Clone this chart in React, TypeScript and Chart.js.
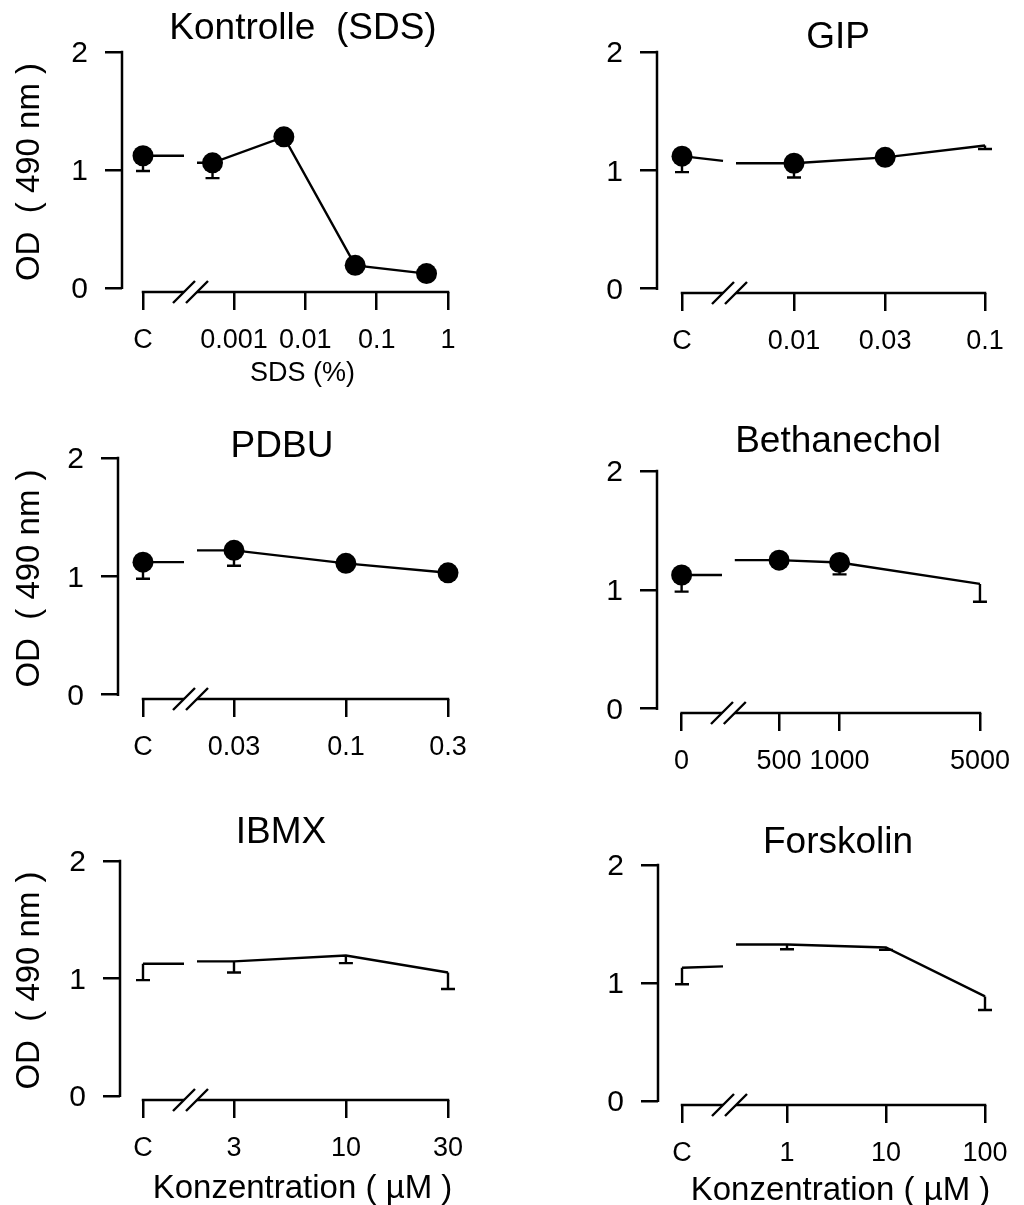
import React, { useEffect, useRef } from 'react';
import { Chart, registerables } from 'chart.js';

Chart.register(...registerables);

const FONT = '"Liberation Sans", Arial, sans-serif';

// ---------------- data ----------------
const panelTitles = ['Kontrolle  (SDS)', 'GIP', 'PDBU', 'Bethanechol', 'IBMX', 'Forskolin'];
const xTitles = ['SDS (%)', '', '', '', 'Konzentration ( µM )', 'Konzentration ( µM )'];
const yTitle = 'OD  ( 490 nm )';
const yTicks = [0, 1, 2];

// Kontrolle (SDS)
const sdsTickLabels = ['C', '0.001', '0.01', '0.1', '1'];
const sdsTicks = [0.001, 0.01, 0.1, 1];
const sdsDoses = [0.0005, 0.005, 0.05, 0.5];
const sdsMeans = [1.06, 1.28, 0.19, 0.12];
const sdsErrors = [0.13, 0, 0, 0];
const sdsMarkers = [true, true, true, true];

// GIP
const gipTickLabels = ['C', '0.01', '0.03', '0.1'];
const gipTicks = [0.01, 0.03, 0.1];
const gipDoses = [0.01, 0.03, 0.1];
const gipMeans = [1.06, 1.11, 1.21];
const gipErrors = [0.12, 0, 0.03];
const gipMarkers = [true, true, false];

// PDBU
const pdbuTickLabels = ['C', '0.03', '0.1', '0.3'];
const pdbuTicks = [0.03, 0.1, 0.3];
const pdbuDoses = [0.03, 0.1, 0.3];
const pdbuMeans = [1.22, 1.11, 1.03];
const pdbuErrors = [0.13, 0.03, 0];
const pdbuMarkers = [true, true, true];

// Bethanechol
const bethTickLabels = ['0', '500', '1000', '5000'];
const bethTicks = [500, 1000, 5000];
const bethDoses = [500, 1000, 5000];
const bethMeans = [1.25, 1.23, 1.05];
const bethErrors = [0.02, 0.1, 0.15];
const bethMarkers = [true, true, false];

// IBMX
const ibmxTickLabels = ['C', '3', '10', '30'];
const ibmxTicks = [3, 10, 30];
const ibmxDoses = [3, 10, 30];
const ibmxMeans = [1.145, 1.195, 1.05];
const ibmxErrors = [0.095, 0.065, 0.14];
const ibmxMarkers = [false, false, false];

// Forskolin
const forsTickLabels = ['C', '1', '10', '100'];
const forsTicks = [1, 10, 100];
const forsDoses = [1, 10, 100];
const forsMeans = [1.325, 1.3, 0.885];
const forsErrors = [0.04, 0.02, 0.115];
const forsMarkers = [false, false, false];

// control (C) per panel
const controlMeans = [1.12, 1.12, 1.12, 1.125, 1.125, 1.128];
const controlErrors = [0.13, 0.135, 0.14, 0.14, 0.14, 0.14];
const controlStubEnds = [1.12, 1.08, 1.12, 1.125, 1.125, 1.14];
const controlMarkers = [true, true, true, true, false, false];

const PANELS = [
  { tickLabels: sdsTickLabels, ticks: sdsTicks, doses: sdsDoses, means: sdsMeans, errors: sdsErrors, markers: sdsMarkers },
  { tickLabels: gipTickLabels, ticks: gipTicks, doses: gipDoses, means: gipMeans, errors: gipErrors, markers: gipMarkers },
  { tickLabels: pdbuTickLabels, ticks: pdbuTicks, doses: pdbuDoses, means: pdbuMeans, errors: pdbuErrors, markers: pdbuMarkers },
  { tickLabels: bethTickLabels, ticks: bethTicks, doses: bethDoses, means: bethMeans, errors: bethErrors, markers: bethMarkers },
  { tickLabels: ibmxTickLabels, ticks: ibmxTicks, doses: ibmxDoses, means: ibmxMeans, errors: ibmxErrors, markers: ibmxMarkers },
  { tickLabels: forsTickLabels, ticks: forsTicks, doses: forsDoses, means: forsMeans, errors: forsErrors, markers: forsMarkers },
];

// ---------------- layout (page pixels) ----------------
const LAYOUT = [
  { cx: 0, cy: 0, cw: 512, ch: 400, left: 122, top: 52, right: 448, bottom: 292, ctrlPx: 143, firstPx: 234, titleX: 303, titleY: 39, xTitleY: 381, xTitleSize: 27, yTitle: true },
  { cx: 512, cy: 0, cw: 512, ch: 400, left: 657, top: 52, right: 985, bottom: 293, ctrlPx: 682, firstPx: 794, titleX: 838, titleY: 48, xTitleY: 0, xTitleSize: 0, yTitle: false },
  { cx: 0, cy: 400, cw: 512, ch: 390, left: 118, top: 458, right: 448, bottom: 699, ctrlPx: 143, firstPx: 234, titleX: 282, titleY: 457, xTitleY: 0, xTitleSize: 0, yTitle: true },
  { cx: 512, cy: 400, cw: 512, ch: 390, left: 657, top: 471, right: 985, bottom: 713, ctrlPx: 682, firstPx: 781, titleX: 838, titleY: 452, xTitleY: 0, xTitleSize: 0, yTitle: false },
  { cx: 0, cy: 790, cw: 512, ch: 415, left: 120, top: 861, right: 448, bottom: 1100, ctrlPx: 143, firstPx: 234, titleX: 281, titleY: 843, xTitleY: 1198, xTitleSize: 33, yTitle: true },
  { cx: 512, cy: 790, cw: 512, ch: 415, left: 658, top: 865, right: 985, bottom: 1105, ctrlPx: 682, firstPx: 787, titleX: 838, titleY: 853, xTitleY: 1200, xTitleSize: 33, yTitle: false },
];

const Y_MIN = -0.036;
const Y_MAX = 2;
const STUB_END_PX = 41;
const RESTART_PX = 54;
const SLASH = 11;
const CAP = 7;
const MARKER_R = 10.5;
const LINE_W = 2.4;
const AXIS_W = 2.5;

function buildConfig(i: number): any {
  const P = PANELS[i];
  const L = LAYOUT[i];
  const firstLog = Math.log10(P.ticks[0]);
  const lastLog = Math.log10(P.ticks[P.ticks.length - 1]);
  const dec = (L.right - L.firstPx) / (lastLog - firstLog);
  const ctrlX = firstLog - (L.firstPx - L.ctrlPx) / dec;
  const xMin = firstLog - (L.firstPx - L.left) / dec;
  const stubEnd = ctrlX + STUB_END_PX / dec;
  const restart = ctrlX + RESTART_PX / dec;
  const tickPositions = [ctrlX, ...P.ticks.map((t) => Math.log10(t))];

  const bars = [
    { x: ctrlX, m: controlMeans[i], e: controlErrors[i] },
    ...P.doses.map((d, k) => ({ x: Math.log10(d), m: P.means[k], e: P.errors[k] })),
  ];

  const decor = {
    id: 'decor' + i,
    beforeDatasetsDraw(chart: any) {
      const ctx = chart.ctx;
      const xs = chart.scales.x;
      const ys = chart.scales.y;
      const area = chart.chartArea;
      ctx.save();
      ctx.strokeStyle = '#000';
      ctx.lineWidth = AXIS_W;
      ctx.lineCap = 'butt';
      // y axis line
      const y0 = ys.getPixelForValue(0);
      const y2 = ys.getPixelForValue(2);
      ctx.beginPath();
      ctx.moveTo(area.left, y2 - 1.25);
      ctx.lineTo(area.left, y0 + 1.25);
      ctx.stroke();
      // x axis line
      const xa = area.bottom;
      ctx.beginPath();
      ctx.moveTo(xs.getPixelForValue(ctrlX) - 1.25, xa);
      ctx.lineTo(xs.getPixelForValue(lastLog) + 1.25, xa);
      ctx.stroke();
      // axis break
      const b1 = xs.getPixelForValue(stubEnd);
      const b2 = xs.getPixelForValue(restart);
      ctx.fillStyle = '#fff';
      ctx.beginPath();
      ctx.moveTo(b1 - SLASH, xa + SLASH);
      ctx.lineTo(b1 + SLASH, xa - SLASH);
      ctx.lineTo(b2 + SLASH, xa - SLASH);
      ctx.lineTo(b2 - SLASH, xa + SLASH);
      ctx.closePath();
      ctx.fill();
      ctx.lineWidth = LINE_W;
      ctx.beginPath();
      ctx.moveTo(b1 - SLASH, xa + SLASH);
      ctx.lineTo(b1 + SLASH, xa - SLASH);
      ctx.moveTo(b2 - SLASH, xa + SLASH);
      ctx.lineTo(b2 + SLASH, xa - SLASH);
      ctx.stroke();
      // error bars (lower half)
      bars.forEach((b) => {
        if (b.e <= 0) return;
        const px = xs.getPixelForValue(b.x);
        const pm = ys.getPixelForValue(b.m);
        const pl = ys.getPixelForValue(b.m - b.e);
        ctx.beginPath();
        ctx.moveTo(px, pm);
        ctx.lineTo(px, pl);
        ctx.moveTo(px - CAP, pl);
        ctx.lineTo(px + CAP, pl);
        ctx.stroke();
      });
      ctx.restore();
    },
    afterDraw(chart: any) {
      const ctx = chart.ctx;
      const xs = chart.scales.x;
      ctx.save();
      ctx.fillStyle = '#000';
      ctx.textAlign = 'center';
      ctx.textBaseline = 'alphabetic';
      ctx.font = `37px ${FONT}`;
      ctx.fillText(panelTitles[i], L.titleX - L.cx, L.titleY - L.cy);
      if (xTitles[i]) {
        ctx.font = `${L.xTitleSize}px ${FONT}`;
        const cxm = (xs.getPixelForValue(ctrlX) + xs.getPixelForValue(lastLog)) / 2 + 7;
        ctx.fillText(xTitles[i], cxm, L.xTitleY - L.cy);
      }
      ctx.restore();
    },
  };

  const common = {
    showLine: true,
    borderColor: '#000',
    backgroundColor: '#000',
    borderWidth: LINE_W,
    pointBorderWidth: 0,
    pointHoverRadius: 0,
    tension: 0,
    clip: false,
  };

  return {
    type: 'scatter',
    data: {
      datasets: [
        {
          ...common,
          data: [{ x: restart, y: P.means[0] }, ...P.doses.map((d, k) => ({ x: Math.log10(d), y: P.means[k] }))],
          pointRadius: [0, ...P.markers.map((m) => (m ? MARKER_R : 0))],
        },
        {
          ...common,
          data: [
            { x: ctrlX, y: controlMeans[i] },
            { x: stubEnd, y: controlStubEnds[i] },
          ],
          pointRadius: [controlMarkers[i] ? MARKER_R : 0, 0],
        },
      ],
    },
    options: {
      responsive: false,
      animation: false,
      devicePixelRatio: 1,
      events: [],
      layout: { padding: { left: 0, top: L.top - L.cy, right: L.cx + L.cw - L.right, bottom: 0 } },
      plugins: { legend: { display: false }, tooltip: { enabled: false }, title: { display: false } },
      scales: {
        x: {
          type: 'linear',
          min: xMin,
          max: lastLog,
          border: { display: false },
          grid: { drawOnChartArea: false, drawTicks: true, tickLength: 18, color: '#000', lineWidth: AXIS_W },
          ticks: {
            color: '#000',
            font: { family: FONT, size: 27 },
            padding: 14,
            maxRotation: 0,
            autoSkip: false,
            callback: (_v: any, idx: number) => P.tickLabels[idx],
          },
          afterBuildTicks: (s: any) => {
            s.ticks = tickPositions.map((v) => ({ value: v }));
          },
          afterFit: (s: any) => {
            s.height = L.cy + L.ch - L.bottom;
          },
        },
        y: {
          type: 'linear',
          min: Y_MIN,
          max: Y_MAX,
          border: { display: false },
          grid: { drawOnChartArea: false, drawTicks: true, tickLength: 17, color: '#000', lineWidth: AXIS_W },
          ticks: {
            color: '#000',
            font: { family: FONT, size: 30 },
            padding: 17,
            labelOffset: 2,
            callback: (v: any) => String(v),
          },
          afterBuildTicks: (s: any) => {
            s.ticks = yTicks.map((v) => ({ value: v }));
          },
          afterFit: (s: any) => {
            s.width = L.left - L.cx;
          },
          title: {
            display: L.yTitle,
            text: yTitle,
            color: '#000',
            font: { family: FONT, size: 33 },
            padding: { top: 10, bottom: 0 },
          },
        },
      },
    },
    plugins: [decor],
  };
}

function Panel({ index }: { index: number }) {
  const ref = useRef<HTMLCanvasElement>(null);
  const L = LAYOUT[index];
  useEffect(() => {
    if (!ref.current) return;
    const chart = new Chart(ref.current, buildConfig(index));
    return () => chart.destroy();
  }, [index]);
  return (
    <canvas
      ref={ref}
      width={L.cw}
      height={L.ch}
      style={{ position: 'absolute', left: L.cx, top: L.cy, width: L.cw, height: L.ch }}
    />
  );
}

export default function App() {
  return (
    <div style={{ position: 'absolute', left: 0, top: 0, width: 1024, height: 1205, background: '#fff' }}>
      {PANELS.map((_p, i) => (
        <Panel key={i} index={i} />
      ))}
    </div>
  );
}
